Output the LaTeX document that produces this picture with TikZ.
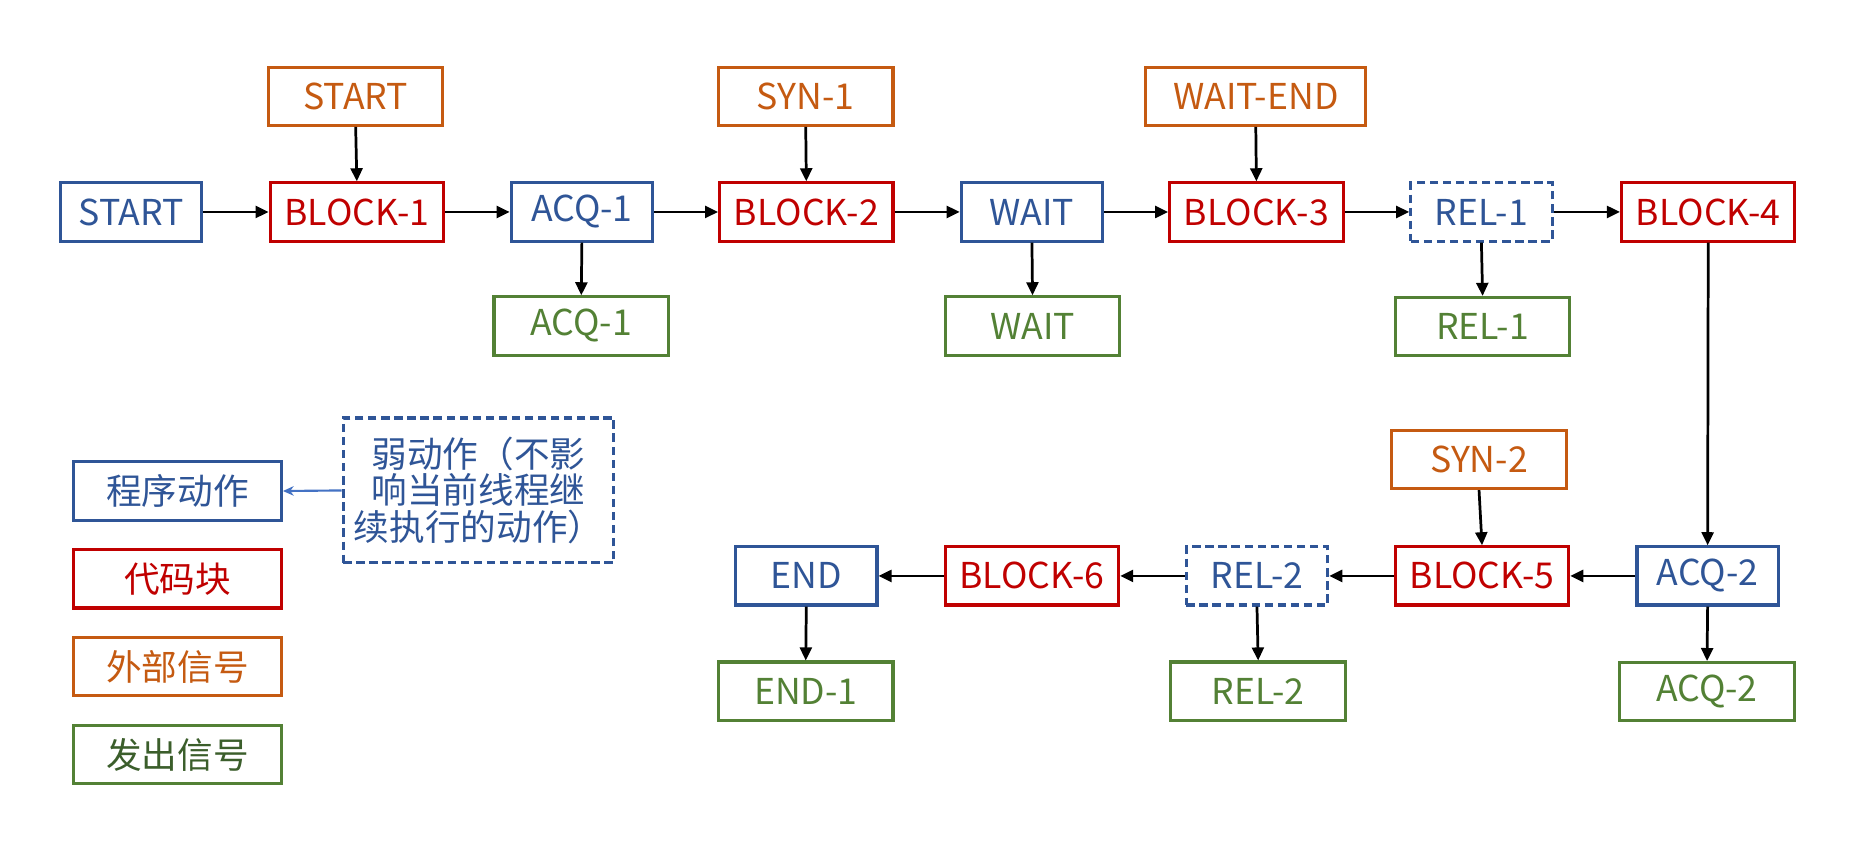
\documentclass[tikz,border=0pt]{standalone}
\usepackage{fontspec}
\setmainfont{Noto Sans CJK SC}
\usetikzlibrary{arrows.meta}
\definecolor{cblue}{HTML}{2F5597}
\definecolor{cred}{HTML}{C00000}
\definecolor{corange}{HTML}{C55A11}
\definecolor{cgreen}{HTML}{538135}
\definecolor{cdgreen}{HTML}{3B5E2B}
\definecolor{clink}{HTML}{4472C4}
\tikzset{
  box/.style={draw, line width=2.6pt, inner sep=0pt, minimum height=49pt, font=\fontsize{30}{32}\selectfont},
  pa/.style={box, draw=cblue, text=cblue, minimum width=119pt},
  weak/.style={pa, dash pattern=on 7pt off 4pt},
  cb/.style={box, draw=cred, text=cred, minimum width=146pt},
  ext/.style={box, draw=corange, text=corange, minimum width=147pt},
  outsig/.style={box, draw=cgreen, text=cgreen, minimum width=147pt},
  leg/.style={box, minimum width=175pt},
  conn/.style={draw=black, line width=2.3pt, -{Triangle[length=11pt,width=10pt]}},
}
\begin{document}
\begin{tikzpicture}[x=1pt,y=-1pt]
\useasboundingbox[fill=white] (0,0) rectangle (1568,722);
% row 1
\node[pa] (startB) at (110.5,178.5) {START};
\node[cb] (block1) at (300.5,178.5) {BLOCK-1};
\node[pa] (acq1) at (490,178.5) {ACQ-1};
\node[cb] (block2) at (679,178.5) {BLOCK-2};
\node[pa] (wait) at (869,178.5) {WAIT};
\node[cb] (block3) at (1058,178.5) {BLOCK-3};
\node[weak] (rel1) at (1247.5,178.5) {REL-1};
\node[cb] (block4) at (1438.5,178.5) {BLOCK-4};
% external signals row 1
\node[ext] (startO) at (299.5,81) {START};
\node[ext] (syn1) at (678.5,81) {SYN-1};
\node[ext, minimum width=185pt] (waitend) at (1057.5,81) {WAIT-END};
% output signals row 1
\node[outsig] (acq1g) at (489.5,274.5) {ACQ-1};
\node[outsig] (waitg) at (869.5,274.5) {WAIT};
\node[outsig] (rel1g) at (1248.5,275) {REL-1};
% row 2
\node[pa] (endB) at (679,485) {END};
\node[cb] (block6) at (869,485) {BLOCK-6};
\node[weak] (rel2) at (1058.5,485) {REL-2};
\node[cb] (block5) at (1248,485) {BLOCK-5};
\node[pa] (acq2) at (1438,485) {ACQ-2};
\node[ext] (syn2) at (1245.5,387) {SYN-2};
\node[outsig] (end1g) at (678.5,582) {END-1};
\node[outsig] (rel2g) at (1059.5,582) {REL-2};
\node[outsig] (acq2g) at (1437.5,582.5) {ACQ-2};
% legend
\node[leg, draw=cblue, text=cblue] (leg1) at (149.5,413.5) {程序动作};
\node[leg, draw=cred, text=cred] (leg2) at (149.5,487.5) {代码块};
\node[leg, draw=corange, text=corange] (leg3) at (149.5,561.5) {外部信号};
\node[leg, draw=cgreen, text=cdgreen] (leg4) at (149.5,635.5) {发出信号};
\node[draw=cblue, text=cblue, line width=2.6pt, dash pattern=on 7pt off 4pt, inner sep=0pt,
      minimum width=228pt, minimum height=122pt, align=center,
      font=\fontsize{30}{31}\selectfont] (note) at (403,413) {弱动作（不影\\响当前线程继\\续执行的动作）};
% connectors
\draw[conn] (startB) -- (block1);
\draw[conn] (block1) -- (acq1);
\draw[conn] (acq1) -- (block2);
\draw[conn] (block2) -- (wait);
\draw[conn] (wait) -- (block3);
\draw[conn] (block3) -- (rel1);
\draw[conn] (rel1) -- (block4);
\draw[conn] (startO.south) -- (block1.north);
\draw[conn] (syn1.south) -- (block2.north);
\draw[conn] (waitend.south) -- (block3.north);
\draw[conn] (acq1.south) -- (acq1g.north);
\draw[conn] (wait.south) -- (waitg.north);
\draw[conn] (rel1.south) -- (rel1g.north);
\draw[conn] (block4.south) -- (acq2.north);
\draw[conn] (acq2) -- (block5);
\draw[conn] (block5) -- (rel2);
\draw[conn] (rel2) -- (block6);
\draw[conn] (block6) -- (endB);
\draw[conn] (syn2.south) -- (block5.north);
\draw[conn] (acq2.south) -- (acq2g.north);
\draw[conn] (rel2.south) -- (rel2g.north);
\draw[conn] (endB.south) -- (end1g.north);
\draw[draw=clink, line width=1.8pt, -{Stealth[length=9pt,width=8pt]}] (note.west) -- (leg1.east);
\end{tikzpicture}
\end{document}
